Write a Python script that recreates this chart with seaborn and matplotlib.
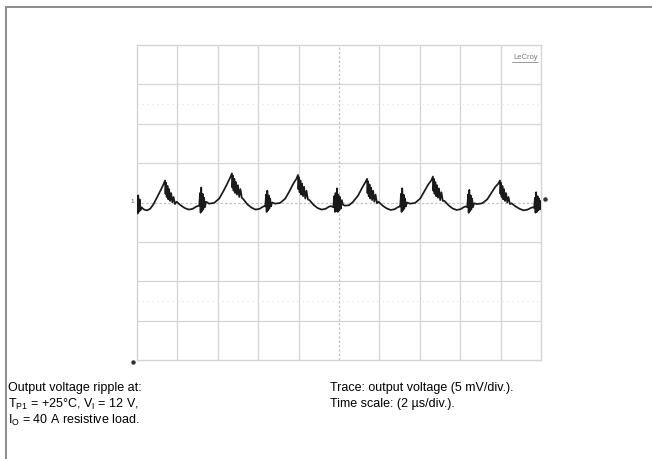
import numpy as np
import pandas as pd
import matplotlib
matplotlib.use("Agg")
import matplotlib.pyplot as plt
from matplotlib.lines import Line2D
import seaborn as sns

# ---- data: oscilloscope trace (time in us, 2 us/div; voltage in mV, 5 mV/div)
time_us = [
    0.00, 0.03, 0.06, 0.09, 0.13, 0.17, 0.22, 0.35, 0.50, 0.65, 0.80, 0.96, 1.16, 1.31, 1.39,
    1.41, 1.44, 1.47, 1.51, 1.55, 1.59, 1.64, 1.69, 1.75, 1.81, 1.88,
    1.96, 2.16, 2.36, 2.56, 2.76, 2.91, 3.01,
    3.08, 3.12, 3.15, 3.18, 3.21, 3.25, 3.28, 3.32, 3.36, 3.42,
    3.57, 3.82, 4.07, 4.27, 4.47, 4.62, 4.70,
    4.72, 4.75, 4.78, 4.82, 4.86, 4.90, 4.95, 5.00, 5.06, 5.12, 5.19,
    5.27, 5.47, 5.67, 5.87, 6.07, 6.22, 6.32,
    6.35, 6.39, 6.42, 6.45, 6.48, 6.52, 6.55, 6.59, 6.63, 6.69,
    6.84, 7.09, 7.34, 7.54, 7.74, 7.89, 7.97,
    7.99, 8.02, 8.05, 8.09, 8.13, 8.17, 8.22, 8.27, 8.33, 8.39, 8.46,
    8.54, 8.74, 8.94, 9.14, 9.34, 9.49, 9.59,
    9.72, 9.76, 9.80, 9.83, 9.87, 9.90, 9.94, 9.97, 10.01, 10.05, 10.09, 10.14, 10.20,
    10.30, 10.50, 10.70, 10.95, 11.15, 11.31, 11.39,
    11.41, 11.44, 11.47, 11.51, 11.55, 11.59, 11.64, 11.69, 11.75, 11.81, 11.88,
    11.96, 12.16, 12.36, 12.56, 12.76, 12.91, 13.01,
    13.03, 13.07, 13.10, 13.13, 13.16, 13.20, 13.23, 13.27, 13.31, 13.37,
    13.52, 13.77, 14.02, 14.22, 14.42, 14.57, 14.65,
    14.67, 14.70, 14.73, 14.77, 14.81, 14.85, 14.90, 14.95, 15.01, 15.07, 15.14,
    15.22, 15.42, 15.62, 15.82, 16.02, 16.17, 16.27,
    16.35, 16.39, 16.42, 16.45, 16.48, 16.52, 16.55, 16.59, 16.63, 16.69,
    16.84, 17.09, 17.34, 17.54, 17.74, 17.89, 17.97,
    17.99, 18.02, 18.05, 18.09, 18.13, 18.17, 18.22, 18.27, 18.33, 18.39, 18.46,
    18.54, 18.74, 18.94, 19.14, 19.34, 19.49, 19.59,
    19.66, 19.70, 19.73, 19.76, 19.79, 19.83, 19.86, 19.90, 19.94, 19.97, 20.00,
]
voltage_mv = [
    0.6, -1.4, 0.9, -1.2, 0.4, -1.0, -0.6, -0.9, -1.0, -0.8, -0.3, 0.5, 1.5, 2.3, 2.8,
    1.1, 2.5, 0.7, 2.1, 0.4, 1.7, 0.2, 1.2, 0.0, 0.7, -0.2,
    0.1, -0.35, -0.7, -0.9, -0.8, -0.55, -0.45,
    -0.4, 1.2, -1.3, 1.9, -1.1, 1.1, -0.9, 0.6, -0.6, 0.1,
    -0.15, -0.05, 0.5, 1.4, 2.4, 3.2, 3.7,
    1.9, 3.4, 1.5, 3.0, 1.2, 2.6, 1.0, 2.2, 0.7, 1.7, 0.6,
    0.4, -0.25, -0.65, -0.9, -0.8, -0.55, -0.45,
    -0.5, 1.0, -1.2, 1.5, -1.0, 0.9, -0.8, 0.5, -0.5, 0.0,
    -0.15, -0.05, 0.5, 1.4, 2.4, 3.0, 3.5,
    1.7, 3.2, 1.3, 2.8, 1.0, 2.4, 0.8, 2.0, 0.5, 1.5, 0.4,
    0.3, -0.3, -0.7, -0.9, -0.8, -0.55, -0.45,
    -0.6, 0.8, -1.2, 1.2, -1.1, 1.8, -1.2, 1.0, -1.0, 0.7, -0.8, 0.3, -0.3,
    -0.4, -0.35, 0.1, 0.9, 1.9, 2.6, 3.0,
    1.2, 2.7, 0.8, 2.3, 0.5, 1.9, 0.3, 1.5, 0.1, 1.0, -0.1,
    0.1, -0.4, -0.75, -0.95, -0.85, -0.6, -0.5,
    -0.5, 1.1, -1.2, 1.8, -1.0, 1.0, -0.8, 0.5, -0.5, 0.0,
    -0.15, -0.05, 0.5, 1.4, 2.3, 2.8, 3.3,
    1.5, 3.0, 1.1, 2.6, 0.8, 2.2, 0.6, 1.8, 0.3, 1.3, 0.2,
    0.2, -0.35, -0.75, -0.95, -0.85, -0.6, -0.5,
    -0.6, 1.0, -1.3, 1.6, -1.1, 0.9, -0.9, 0.5, -0.6, -0.1,
    -0.2, -0.1, 0.4, 1.2, 2.0, 2.4, 2.8,
    1.1, 2.5, 0.7, 2.1, 0.4, 1.7, 0.2, 1.2, 0.0, 0.7, -0.2,
    -0.1, -0.5, -0.8, -1.0, -0.9, -0.7, -0.6,
    -0.7, 0.6, -1.3, 1.3, -1.2, 0.8, -1.0, 0.5, -0.9, 0.2, -0.4,
]

time_div_us = 2.0
volt_div_mv = 5.0
n_xdiv = 10
n_ydiv = 8

caption_left = [
    "Output voltage ripple at:",
    r"T$_{\mathregular{P1}}$ = +25°C, V$_{\mathregular{I}}$ = 12 V,",
    r"I$_{\mathregular{O}}$ = 40 A resistive load.",
]
caption_right = [
    "Trace: output voltage (5 mV/div.).",
    "Time scale: (2 µs/div.).",
]
brand = "LeCroy"

# ---- style
sns.set_style("white")
plt.rcParams["font.family"] = ["Liberation Sans", "DejaVu Sans"]
plt.rcParams["mathtext.fontset"] = "custom"
plt.rcParams["mathtext.rm"] = "Liberation Sans"

fig = plt.figure(figsize=(6.52, 4.60), dpi=100)
fig.patch.set_facecolor("white")
ax = fig.add_axes([137 / 652, 99 / 460, 404 / 652, 315 / 460])

xmax = n_xdiv * time_div_us
ymax = n_ydiv / 2 * volt_div_mv
ax.set_xlim(0, xmax)
ax.set_ylim(-ymax, ymax)

grid_c = "#d4d4d4"
xs = [i * time_div_us for i in range(1, n_xdiv)]
ys = [(j - n_ydiv / 2) * volt_div_mv for j in range(1, n_ydiv)]
for x in xs:
    if abs(x - xmax / 2) > 1e-9:
        ax.axvline(x, color=grid_c, lw=0.9, zorder=1)
for y in ys:
    if abs(y) > 1e-9:
        ax.axhline(y, color=grid_c, lw=0.9, zorder=1)
# centre cross with minor ticks
ax.axvline(xmax / 2, color="#c4c4c4", lw=0.9, ls=(0, (2, 1.5)), zorder=1)
ax.axhline(0, color="#c4c4c4", lw=0.9, ls=(0, (2, 1.5)), zorder=1)
# faint dotted marker rows
for y in (2.5 * volt_div_mv, -2.5 * volt_div_mv):
    ax.axhline(y, color="#e6e6e6", lw=0.9, ls=(0, (1, 3)), zorder=1)

for s in ax.spines.values():
    s.set_color(grid_c)
    s.set_linewidth(1.0)
ax.set_xticks([])
ax.set_yticks([])

df = pd.DataFrame({"t": time_us, "v": voltage_mv})
sns.lineplot(data=df, x="t", y="v", ax=ax, estimator=None, sort=False,
             color="#1a1a1a", lw=1.25, zorder=3)
ax.set_xlabel("")
ax.set_ylabel("")

# brand label
ax.text(0.993, 0.975, brand, transform=ax.transAxes, ha="right", va="top",
        fontsize=5.5, color="#7a7a7a", zorder=4)
ax.plot([0.928, 0.993], [0.945, 0.945], transform=ax.transAxes,
        color="#8a8a8a", lw=0.6, zorder=4)

# channel markers
ax.text(-0.012, 0.505, "1", transform=ax.transAxes, ha="center", va="center",
        fontsize=4.5, color="#555555", clip_on=False)
ax.plot([1.01], [0.51], transform=ax.transAxes, marker="o", ms=2.2,
        color="#333333", clip_on=False)
ax.plot([-0.01], [-0.007], transform=ax.transAxes, marker="o", ms=2.2,
        color="#333333", clip_on=False)

# outer frame (top and left edges)
fig.add_artist(Line2D([6 / 652, 1.0], [1 - 8 / 460, 1 - 8 / 460],
                      transform=fig.transFigure, color="#8c8c8c", lw=1.4))
fig.add_artist(Line2D([6 / 652, 6 / 652], [1 - 8 / 460, 0.0],
                      transform=fig.transFigure, color="#8c8c8c", lw=1.4))

# captions
line_y = [1 - 388 / 460, 1 - 404 / 460, 1 - 420 / 460]
for txt, y in zip(caption_left, line_y):
    fig.text(8 / 652, y, txt, ha="left", va="center", fontsize=9, color="black")
for txt, y in zip(caption_right, line_y):
    fig.text(330 / 652, y, txt, ha="left", va="center", fontsize=9, color="black")

fig.savefig("out.png", dpi=100, facecolor="white")
